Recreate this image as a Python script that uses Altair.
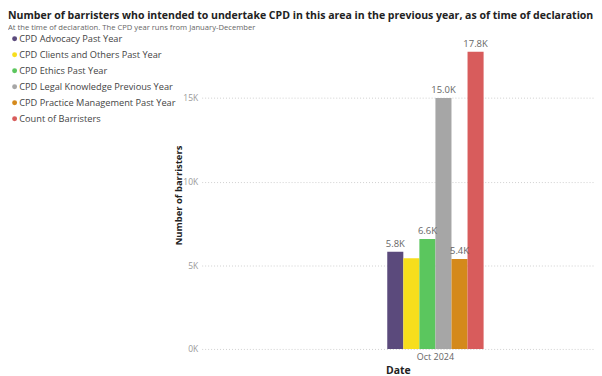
import altair as alt
import pandas as pd

series = [
    "CPD Advocacy Past Year",
    "CPD Clients and Others Past Year",
    "CPD Ethics Past Year",
    "CPD Legal Knowledge Previous Year",
    "CPD Practice Management Past Year",
    "Count of Barristers",
]
values = [5810, 5420, 6570, 15000, 5380, 17760]
labels = ["5.8K", "", "6.6K", "15.0K", "5.4K", "17.8K"]
colors = ["#5B4A7C", "#F7DE1C", "#5BC65E", "#A6A6A6", "#D4891B", "#D85C5C"]
date_label = "Oct 2024"

df = pd.DataFrame({
    "date": [date_label] * len(series),
    "series": series,
    "value": values,
    "label": labels,
})

FONT = "Open Sans"

x_enc = alt.X(
    "date:N",
    title="Date",
    scale=alt.Scale(paddingInner=0.349, paddingOuter=1, align=0.627),
    axis=alt.Axis(
        labelAngle=0, labelColor="#666666", labelFontSize=9, labelFont=FONT,
        titleFont=FONT, titleFontSize=10.5, titleFontWeight="bold", titleColor="#222222",
        domain=False, ticks=False, grid=False, labelPadding=4, titlePadding=4,
    ),
)
xoff = alt.XOffset("series:N", sort=series, scale=alt.Scale(paddingInner=0, paddingOuter=0))
y_enc = alt.Y(
    "value:Q",
    title="Number of barristers",
    scale=alt.Scale(domain=[0, 18400], nice=False),
    axis=alt.Axis(
        values=[0, 5000, 10000, 15000],
        labelExpr="datum.value / 1000 + 'K'",
        labelColor="#999999", labelFontSize=8.5, labelFont=FONT,
        titleFont=FONT, titleFontSize=9.5, titleFontWeight="bold", titleColor="#222222",
        domain=False, ticks=False, labelPadding=4, titlePadding=-1,
        gridDash=[1, 2], gridColor="#D0D0D0",
    ),
)

bars = alt.Chart(df).mark_bar().encode(
    x=x_enc,
    xOffset=xoff,
    y=y_enc,
    color=alt.Color(
        "series:N",
        sort=series,
        scale=alt.Scale(domain=series, range=colors),
        legend=alt.Legend(
            title=None, orient="none", legendX=-193, legendY=-7,
            symbolType="circle", symbolSize=25, labelFont=FONT, labelFontSize=9.3,
            labelColor="#444444", rowPadding=6.1, symbolOffset=0, labelOffset=0,
            padding=0, labelLimit=400,
        ),
    ),
)

text = alt.Chart(df).mark_text(
    baseline="bottom", dy=-3, font=FONT, fontSize=9.5, color="#666666"
).encode(
    x=alt.X("date:N"),
    xOffset=alt.XOffset("series:N", sort=series),
    y=alt.Y("value:Q"),
    text="label:N",
)

chart = alt.layer(bars, text).properties(
    width=395,
    height=310,
    autosize=alt.AutoSizeParams(type="none"),
    padding={"left": 195, "top": 32, "right": 0, "bottom": 28},
    title=alt.Title(
        "Number of barristers who intended to undertake CPD in this area in the previous year, as of time of declaration",
        subtitle="At the time of declaration. The CPD year runs from January-December",
        anchor="start", dx=-2, font=FONT, fontSize=10.6, fontWeight="bold",
        color="#222222", subtitleFont=FONT, subtitleFontSize=7.7,
        subtitleColor="#666666", offset=2, subtitlePadding=3,
    ),
).configure_view(stroke=None)

chart.save("out.html", embed_options={"renderer": "svg", "actions": False})
